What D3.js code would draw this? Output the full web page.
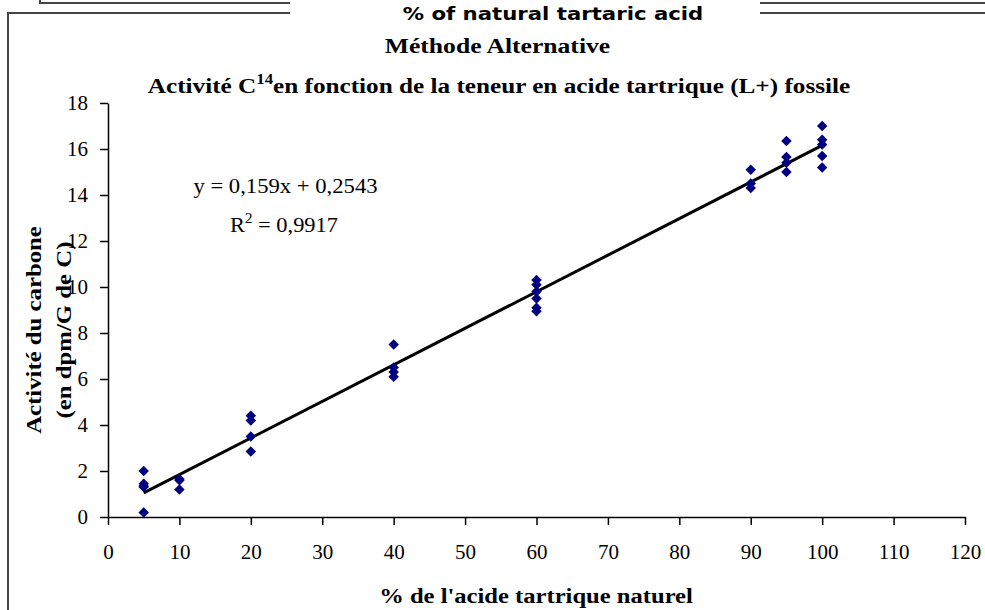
<!DOCTYPE html>
<html><head><meta charset="utf-8">
<script src="https://cdn.jsdelivr.net/npm/d3@7"></script>
<style>body{margin:0;background:#fff}svg{display:block}</style>
</head><body>
<script>
const xTicks = [0,10,20,30,40,50,60,70,80,90,100,110,120];
const yTicks = [0,2,4,6,8,10,12,14,16,18];
const xValues = [5,5,5,5,5, 10,10,10, 20,20,20,20, 40,40,40,40, 60,60,60,60,60,60, 90,90,90, 95,95,95,95, 100,100,100,100,100];
const yValues = [2.0,1.45,1.35,1.3,0.2, 1.65,1.6,1.2, 4.4,4.2,3.5,2.85, 7.5,6.5,6.3,6.1, 10.3,10.1,9.8,9.5,9.1,8.95, 15.1,14.5,14.3, 16.35,15.65,15.4,15.0, 17.0,16.4,16.2,15.7,15.2];
const trendSlope = 0.159, trendIntercept = 0.2543;
const trendRange = [5,100];
const titleTop = "% of natural tartaric acid";
const title1 = "Méthode Alternative";
const xLabel = "% de l'acide tartrique naturel";
const yLabel1 = "Activité du carbone";
const yLabel2 = "(en dpm/G de C)";
const eq1 = "y = 0,159x + 0,2543";

const W=985,H=610;
const svg=d3.select("body").append("svg").attr("width",W).attr("height",H);
const serif="'Liberation Serif','Times New Roman',serif";

// frames
const fr=svg.append("g").attr("fill","none").attr("stroke","#444").attr("stroke-width",2);
fr.append("path").attr("d","M40,0V3H290M760,3H985");
fr.append("path").attr("d","M8,610V13H290M760,13H985");

function stext(cx,cy,sx){
  return svg.append("text").attr("transform",`translate(${cx},${cy}) scale(${sx},1)`).attr("text-anchor","middle");
}

stext(553,20,1.18).attr("font-family","'DejaVu Sans',Verdana,sans-serif").attr("font-weight","bold").attr("font-size",18).text(titleTop);

stext(497.5,53,1.22).attr("font-family",serif).attr("font-weight","bold").attr("font-size",21).text(title1);
const t2=stext(499,93,1.2).attr("font-family",serif).attr("font-weight","bold").attr("font-size",21);
t2.append("tspan").text("Activité C");
t2.append("tspan").attr("font-size",14).attr("dy",-9).text("14");
t2.append("tspan").attr("dy",9).text("en fonction de la teneur en acide tartrique (L+) fossile");

const x=d3.scaleLinear().domain([0,120]).range([108,965]);
const y=d3.scaleLinear().domain([0,18]).range([517,103]);

const xa=svg.append("g").attr("transform","translate(0,517)")
 .call(d3.axisBottom(x).tickValues(xTicks).tickSize(8).tickPadding(14).tickSizeOuter(0));
const ya=svg.append("g").attr("transform","translate(108,0)")
 .call(d3.axisLeft(y).tickValues(yTicks).tickSize(8).tickPadding(12).tickSizeOuter(0));
[xa,ya].forEach(a=>{
  a.selectAll("path,line").attr("stroke","#000").attr("stroke-width",1.5);
  a.selectAll("text").attr("font-family",serif).attr("font-size",21).attr("fill","#000");
});
xa.selectAll("text").attr("dy","0.95em");

// trend line
svg.append("line").attr("x1",x(trendRange[0])).attr("y1",y(trendSlope*trendRange[0]+trendIntercept))
 .attr("x2",x(trendRange[1])).attr("y2",y(trendSlope*trendRange[1]+trendIntercept))
 .attr("stroke","#000").attr("stroke-width",3);

const sym=d3.symbol().type(d3.symbolDiamond2).size(70);
svg.append("g").selectAll("path").data(xValues.map((v,i)=>[v,yValues[i]])).join("path")
 .attr("d",sym).attr("transform",d=>`translate(${x(d[0])},${y(d[1])})`).attr("fill","#000080");

// equation
stext(285.5,193,1.08).attr("font-family",serif).attr("font-size",21).text(eq1);
const r=stext(284,232,1.07).attr("font-family",serif).attr("font-size",21);
r.append("tspan").text("R");
r.append("tspan").attr("font-size",14).attr("dy",-9).text("2");
r.append("tspan").attr("dy",9).text(" = 0,9917");

stext(536,603,1.23).attr("font-family",serif).attr("font-weight","bold").attr("font-size",20).text(xLabel);
const yl=svg.append("text").attr("transform","translate(0,330) rotate(-90) scale(1.18,1)").attr("text-anchor","middle")
 .attr("font-family",serif).attr("font-weight","bold").attr("font-size",21);
yl.append("tspan").attr("x",0).attr("y",41).text(yLabel1);
yl.append("tspan").attr("x",0).attr("y",71).text(yLabel2);
</script>
</body></html>
